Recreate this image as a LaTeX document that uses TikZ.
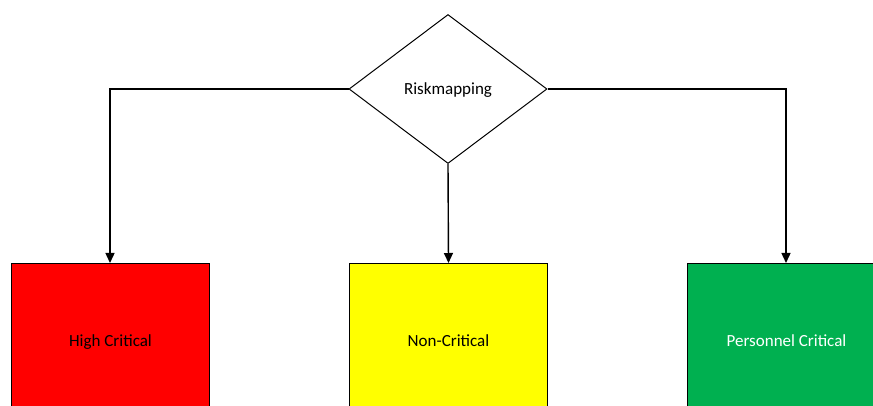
\documentclass[tikz,border=0pt]{standalone}
\usepackage{fontspec}
\setmainfont{Carlito}
\usetikzlibrary{shapes.geometric,arrows.meta}
\definecolor{critred}{RGB}{255,0,0}
\definecolor{crityellow}{RGB}{255,255,0}
\definecolor{critgreen}{RGB}{0,176,80}
% centre the capitals of a label on the node centre
\newcommand{\midlabel}[1]{\raisebox{-6pt}[0pt][0pt]{#1}}
\tikzset{
  flow/.style={draw=black, line width=1.4pt,
    -{Triangle[width=9pt,length=10pt]}},
  decision/.style={diamond, draw=black, line width=1pt, fill=white,
    minimum width=198pt, minimum height=149pt, inner sep=0pt,
    font=\fontsize{17}{20}\selectfont},
  category/.style={rectangle, draw=black, line width=1pt,
    minimum width=198pt, minimum height=154pt, inner sep=0pt,
    font=\fontsize{17}{20}\selectfont},
}
\begin{document}
\begin{tikzpicture}[x=1pt, y=-1pt]
  \useasboundingbox (0,0) rectangle (873,406);
  \clip (0,0) rectangle (873,406);
  % decision node
  \node[decision] (risk) at (448,89) {\midlabel{Riskmapping}};
  % category boxes
  \node[category, fill=critred, anchor=north west] (high) at (11,263) {\midlabel{High Critical}};
  \node[category, fill=crityellow, anchor=north west] (non) at (349,263) {\midlabel{Non-Critical}};
  \node[category, fill=critgreen, text=white, anchor=north west] (pers) at (687,263) {\midlabel{Personnel Critical}};
  % connectors
  \draw[flow] (risk.west) -| (high.north -| 110,0);
  \draw[flow] (risk.south) -- (non.north);
  \draw[flow] (risk.east) -| (pers.north -| 786,0);
\end{tikzpicture}
\end{document}
